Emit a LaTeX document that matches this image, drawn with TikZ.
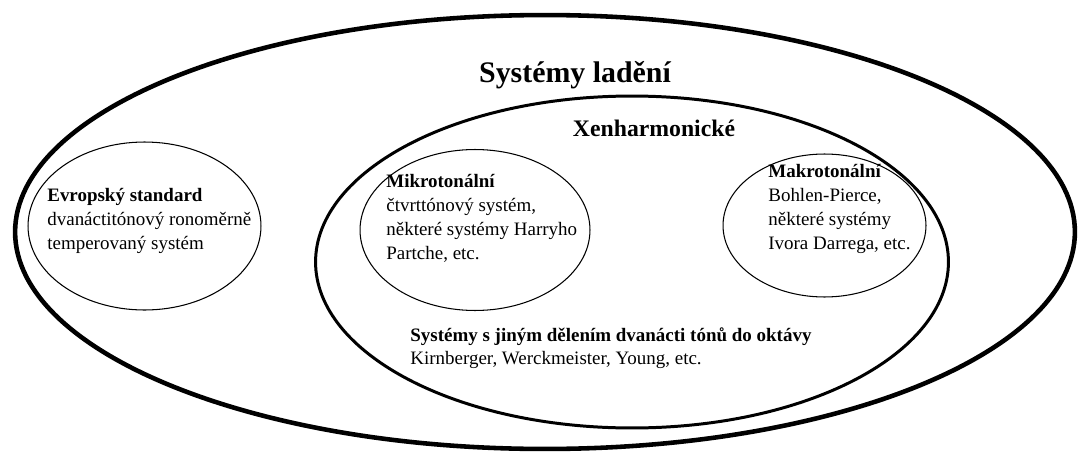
\documentclass[tikz,border=0pt]{standalone}
\usepackage{fontspec}
\setmainfont{Liberation Serif}
\usetikzlibrary{positioning}

\begin{document}
\begin{tikzpicture}[x=0.02cm, y=-0.02cm,
  outer ring/.style={draw, line width=2.6pt},
  xen ring/.style={draw, line width=1.7pt},
  thin ring/.style={draw, line width=0.6pt},
  block/.style={anchor=north west, inner sep=0pt, align=left,
    font=\fontsize{10.8}{13.6}\selectfont}]
  \useasboundingbox (0,0) rectangle (1078,453);

  % Rings
  \draw[outer ring] (545,232) ellipse [x radius=10.6cm, y radius=4.34cm];
  \draw[xen ring] (632,262) ellipse [x radius=6.33cm, y radius=3.32cm];
  \draw[thin ring] (144.5,226) ellipse [x radius=2.33cm, y radius=1.68cm];
  \draw[thin ring] (475,230) ellipse [x radius=2.3cm, y radius=1.61cm];
  \draw[thin ring] (824.5,225.5) ellipse [x radius=2.03cm, y radius=1.43cm];

  % Titles
  \node (ladeni) at (575,75) {\fontsize{17}{20}\selectfont\bfseries Systémy ladění};
  \node (xen) at (654,128) {\fontsize{13.5}{16}\selectfont\bfseries Xenharmonické};

  % Contents
  \node[block] (evrop) at (47,188)
    {\textbf{Evropský standard}\\dvanáctitónový ronoměrně\\temperovaný systém};
  \node[block] (mikro) at (386,174)
    {\textbf{Mikrotonální}\\čtvrttónový systém,\\některé systémy Harryho\\Partche, etc.};
  \node[block] (makro) at (768,164)
    {\textbf{Makrotonální}\\Bohlen-Pierce,\\některé systémy\\Ivora Darrega, etc.};
  \node[block] (jine) at (410,327)
    {\textbf{Systémy s jiným dělením dvanácti tónů do oktávy}\\Kirnberger, Werckmeister, Young, etc.};
\end{tikzpicture}
\end{document}
